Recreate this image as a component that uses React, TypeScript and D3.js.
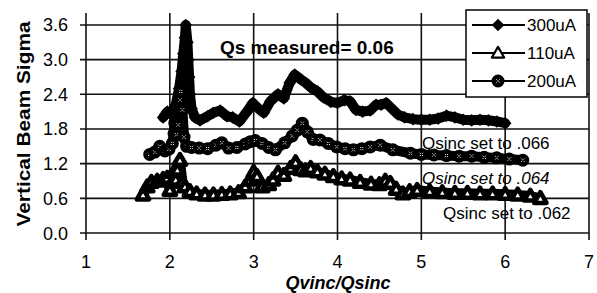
import React from 'react';
import * as d3 from 'd3';

// Qvinc/Qsinc and vertical beam sigma
const q300 = [1.92, 1.97, 2.02, 2.07, 2.11, 2.14, 2.16, 2.18, 2.19, 2.21, 2.22, 2.23, 2.24, 2.26, 2.30, 2.36, 2.45, 2.52, 2.60, 2.68, 2.75, 2.83, 2.92, 2.99, 3.06, 3.12, 3.20, 3.29, 3.36, 3.43, 3.49, 3.56, 3.62, 3.68, 3.76, 3.83, 3.92, 4.00, 4.08, 4.15, 4.22, 4.30, 4.39, 4.46, 4.52, 4.58, 4.65, 4.72, 4.80, 4.90, 5.00, 5.10, 5.20, 5.30, 5.40, 5.50, 5.60, 5.70, 5.80, 5.90, 6.00];
const s300 = [2.00, 2.10, 2.05, 2.22, 2.50, 2.80, 3.10, 3.38, 3.60, 3.30, 3.00, 2.70, 2.40, 2.15, 2.00, 1.95, 2.02, 2.08, 2.12, 2.02, 2.00, 1.93, 2.10, 2.25, 2.15, 2.08, 2.28, 2.40, 2.33, 2.60, 2.74, 2.66, 2.60, 2.52, 2.45, 2.35, 2.27, 2.25, 2.30, 2.28, 2.13, 2.10, 2.12, 2.22, 2.22, 2.25, 2.15, 2.05, 2.00, 1.97, 1.96, 1.96, 1.98, 2.03, 2.00, 1.96, 1.95, 1.96, 1.95, 1.93, 1.90];

const q110 = [1.68, 1.73, 1.78, 1.85, 1.92, 1.97, 2.00, 2.03, 2.05, 2.07, 2.09, 2.12, 2.15, 2.18, 2.24, 2.32, 2.42, 2.52, 2.62, 2.72, 2.82, 2.90, 2.96, 3.00, 3.04, 3.10, 3.18, 3.23, 3.29, 3.36, 3.44, 3.50, 3.56, 3.62, 3.68, 3.76, 3.85, 3.95, 4.05, 4.15, 4.27, 4.40, 4.50, 4.57, 4.63, 4.70, 4.78, 4.86, 4.95, 5.10, 5.25, 5.40, 5.55, 5.70, 5.85, 6.00, 6.15, 6.30, 6.42];
const s110 = [0.66, 0.80, 0.88, 0.90, 0.93, 0.95, 0.74, 0.88, 1.05, 0.92, 1.09, 1.26, 0.88, 0.80, 0.72, 0.68, 0.66, 0.66, 0.67, 0.68, 0.70, 0.80, 0.92, 1.05, 0.98, 0.80, 0.84, 0.92, 1.04, 1.00, 1.12, 1.22, 1.10, 1.08, 1.12, 1.06, 1.02, 0.98, 0.94, 0.92, 0.88, 0.85, 0.84, 0.90, 0.86, 0.76, 0.68, 0.72, 0.74, 0.72, 0.70, 0.69, 0.69, 0.68, 0.68, 0.67, 0.66, 0.64, 0.60];

const q200 = [1.76, 1.82, 1.88, 1.94, 1.99, 2.03, 2.05, 2.06, 2.08, 2.10, 2.11, 2.12, 2.13, 2.15, 2.17, 2.20, 2.26, 2.35, 2.45, 2.55, 2.62, 2.70, 2.80, 2.90, 2.96, 3.02, 3.10, 3.18, 3.26, 3.37, 3.46, 3.52, 3.58, 3.64, 3.71, 3.79, 3.89, 3.99, 4.09, 4.19, 4.29, 4.39, 4.51, 4.66, 4.87, 5.00, 5.15, 5.30, 5.45, 5.60, 5.75, 5.90, 6.05, 6.21];
const s200 = [1.36, 1.40, 1.50, 1.42, 1.45, 1.55, 1.72, 1.90, 1.70, 1.87, 2.13, 2.30, 2.45, 2.13, 1.66, 1.50, 1.48, 1.47, 1.46, 1.52, 1.56, 1.47, 1.48, 1.54, 1.58, 1.60, 1.55, 1.48, 1.44, 1.56, 1.68, 1.78, 1.90, 1.75, 1.62, 1.61, 1.55, 1.49, 1.46, 1.44, 1.46, 1.49, 1.52, 1.44, 1.38, 1.36, 1.35, 1.34, 1.33, 1.33, 1.31, 1.30, 1.28, 1.26];

const seriesNames = ['300uA', '110uA', '200uA'];
const xTicks = [1, 2, 3, 4, 5, 6, 7];
const yTicks = [0, 0.6, 1.2, 1.8, 2.4, 3.0, 3.6];
const notes = ['Qsinc set to .066', 'Qsinc set to .064', 'Qsinc set to .062'];

const W = 597;
const H = 293;
const font = '"Liberation Sans", Arial, Helvetica, sans-serif';

const x = d3.scaleLinear().domain([1, 7]).range([86, 589]);
const y = d3.scaleLinear().domain([0, 3.8]).range([233, 13.4]);

const diamondPath = d3.symbol(d3.symbolSquare, 80)() as string;
const trianglePath = d3.symbol(d3.symbolTriangle, 66)() as string;

type MP = { cx: number; cy: number; legend?: boolean };

const Diamond = ({ cx, cy }: MP) => (
  <path d={diamondPath} transform={`translate(${cx},${cy}) rotate(45)`} fill="#000" />
);

const Triangle = ({ cx, cy, legend }: MP) => (
  <path
    d={trianglePath}
    transform={`translate(${cx},${cy + 1})`}
    fill="#fff"
    stroke="#000"
    strokeWidth={legend ? 2.2 : 4.5}
    strokeLinejoin="round"
  />
);

const Dotted = ({ cx, cy }: MP) => (
  <g transform={`translate(${cx},${cy})`}>
    <circle r={6.5} fill="#000" />
    <path d="M-1.6,-1.6L-0.6,-0.6M1.6,1.6L0.6,0.6M1.6,-1.6L0.6,-0.6M-1.6,1.6L-0.6,0.6" stroke="#fff" strokeWidth={1} />
  </g>
);

const markers = [Diamond, Triangle, Dotted];

const pairs = (qs: number[], ss: number[]) => qs.map((q, i) => [q, ss[i]] as [number, number]);
const series = [pairs(q300, s300), pairs(q110, s110), pairs(q200, s200)];

const line = d3
  .line<[number, number]>()
  .x((d) => x(d[0]))
  .y((d) => y(d[1]));

export default function App() {
  return (
    <svg
      width={W}
      height={H}
      style={{ position: 'absolute', left: 0, top: 0, background: '#fff' }}
      fontFamily={font}
    >
      <rect width={W} height={H} fill="#fff" />

      {/* grid */}
      {yTicks.map((t) => (
        <line key={'h' + t} x1={80} x2={589} y1={y(t)} y2={y(t)} stroke="#111" strokeWidth={1.6} />
      ))}
      {xTicks.map((t) => (
        <line key={'v' + t} x1={x(t)} x2={x(t)} y1={13} y2={240} stroke="#111" strokeWidth={1.6} />
      ))}

      {/* tick labels */}
      {yTicks.map((t) => (
        <text key={'yl' + t} x={68} y={y(t) + 6.5} textAnchor="end" fontSize={18} fill="#000">
          {t.toFixed(1)}
        </text>
      ))}
      {xTicks.map((t) => (
        <text key={'xl' + t} x={x(t)} y={268} textAnchor="middle" fontSize={18} fill="#000">
          {t}
        </text>
      ))}

      {/* series */}
      {series.map((pts, si) => {
        const M = markers[si];
        return (
          <g key={seriesNames[si]}>
            <path d={line(pts) as string} fill="none" stroke="#000" strokeWidth={10} strokeLinejoin="round" strokeLinecap="round" />
            {pts.map((d, i) => (
              <M key={i} cx={x(d[0])} cy={y(d[1])} />
            ))}
          </g>
        );
      })}

      {/* annotations */}
      <text x={220} y={54} fontSize={19} fontWeight="bold" fill="#000">
        Qs measured= 0.06
      </text>
      <text x={422} y={149} fontSize={17} fill="#000">
        {notes[0]}
      </text>
      <text x={422} y={184} fontSize={17} fontStyle="italic" fill="#000">
        {notes[1]}
      </text>
      <text x={443} y={219} fontSize={17} fill="#000">
        {notes[2]}
      </text>

      {/* legend */}
      <rect x={466} y={10} width={121} height={87} fill="#fff" stroke="#000" strokeWidth={1.5} />
      {seriesNames.map((name, i) => {
        const M = markers[i];
        const cy = 25 + i * 28;
        return (
          <g key={name}>
            <line x1={472} x2={525} y1={cy} y2={cy} stroke="#000" strokeWidth={2} />
            <M cx={498} cy={cy} legend />
            <text x={527} y={cy + 6} fontSize={17} fill="#000">
              {name}
            </text>
          </g>
        );
      })}

      {/* axis titles */}
      <text
        transform="translate(30,124) rotate(-90)"
        textAnchor="middle"
        fontSize={18}
        fontWeight="bold"
        textLength={205}
        lengthAdjust="spacingAndGlyphs"
        fill="#000"
      >
        Vertical Beam Sigma
      </text>
      <text x={338} y={289} textAnchor="middle" fontSize={18} fontWeight="bold" fontStyle="italic" fill="#000">
        Qvinc/Qsinc
      </text>
    </svg>
  );
}
